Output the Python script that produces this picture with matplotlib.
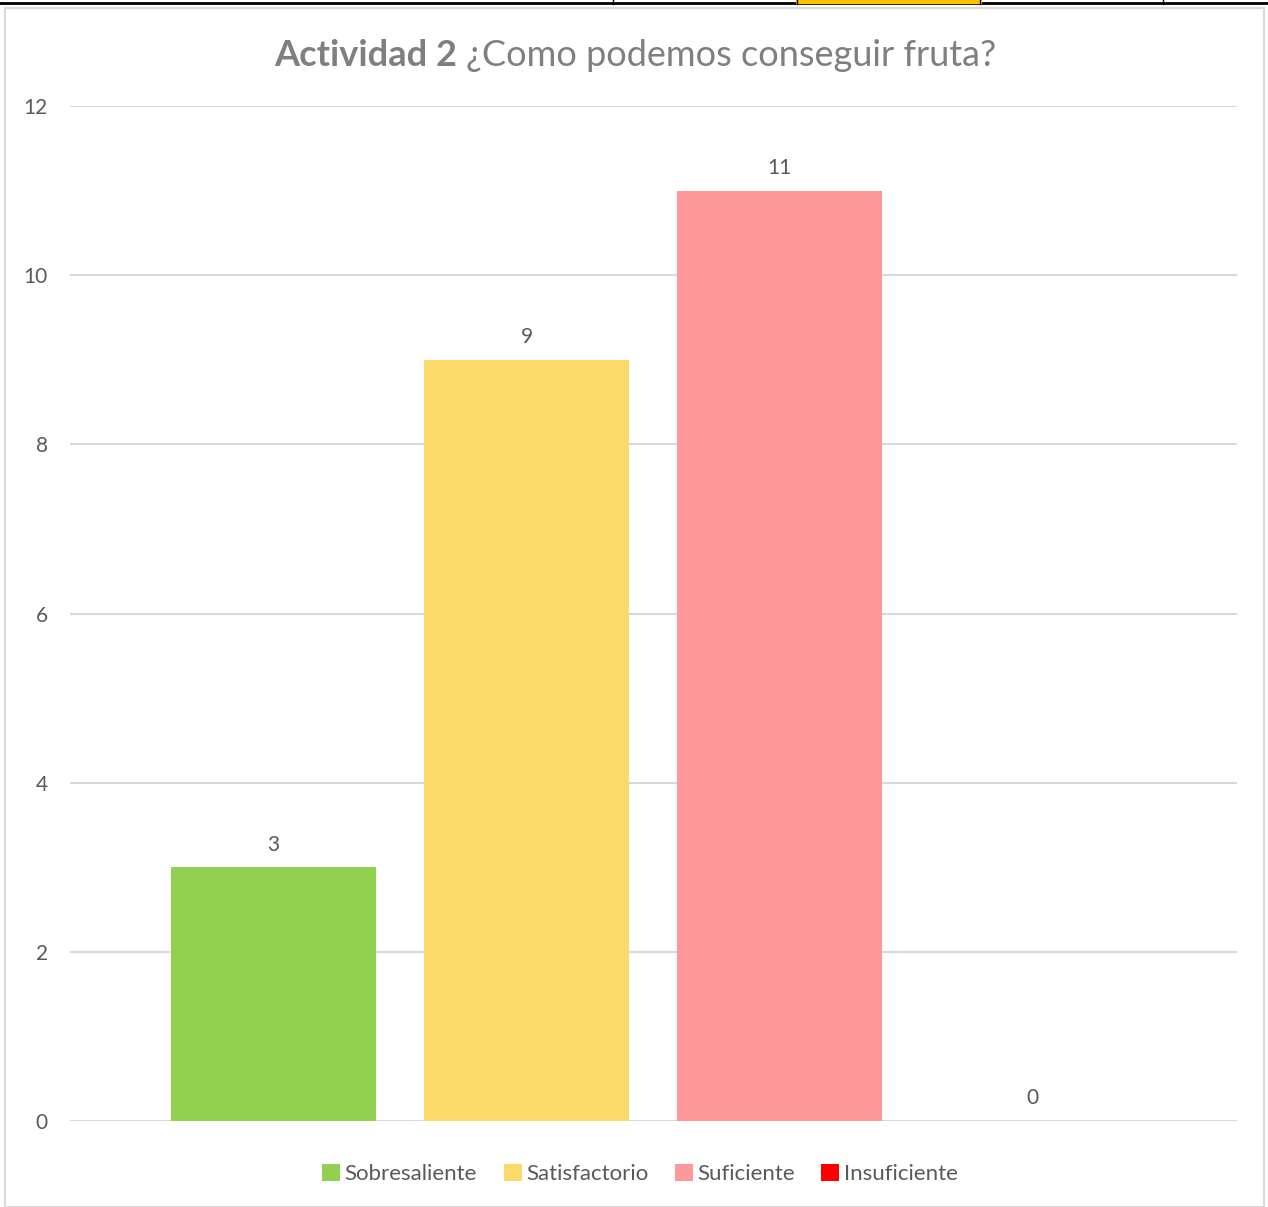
import matplotlib.pyplot as plt
from matplotlib.patches import Rectangle
from matplotlib.lines import Line2D

categorias = ['Sobresaliente', 'Satisfactorio', 'Suficiente', 'Insuficiente']
valores = [3, 9, 11, 0]
cores = ['#92D050', '#FDD96A', '#FF9999', '#FF0000']
yticks = [0, 2, 4, 6, 8, 10, 12]

plt.rcParams['font.family'] = ['Lato', 'DejaVu Sans']
gris = '#7F7F7F'

fig = plt.figure(figsize=(12.68, 12.07), dpi=100)

# marco del grafico y restos de la tabla arriba
fig.add_artist(Rectangle((5 / 1268, 0), 1259 / 1268, 1 - 8 / 1207, transform=fig.transFigure,
                         fill=False, edgecolor='#D9D9D9', lw=1.5))
fig.add_artist(Line2D([0, 1], [1 - 3 / 1207] * 2, color='black', lw=2, transform=fig.transFigure))
fig.add_artist(Line2D([798 / 1268, 980 / 1268], [1 - 2 / 1207] * 2, color='#FFC000', lw=3,
                      transform=fig.transFigure))
for xv in [613, 797, 980, 1163]:
    fig.add_artist(Line2D([xv / 1268] * 2, [1 - 4 / 1207, 1], color='black', lw=1,
                          transform=fig.transFigure))

ax = fig.add_axes([70 / 1268, 1 - 1121 / 1207, 1167 / 1268, (1121 - 106) / 1207])
x = list(range(len(categorias)))
barras = ax.bar(x, valores, width=0.81, color=cores, label=categorias, zorder=2)
for xi, v in zip(x, valores):
    ax.text(xi, v + 0.15, str(v), ha='center', va='bottom', fontsize=15, color='#595959')

ax.set_xlim(-0.804, 3.808)
ax.set_ylim(0, 12)
ax.set_yticks(yticks)
ax.set_xticks([])
ax.grid(axis='y', color='#D9D9D9', lw=1.5, zorder=0)
for s in ax.spines.values():
    s.set_visible(False)
ax.tick_params(axis='y', length=0, labelsize=15, labelcolor='#595959', pad=16)

# titulo: parte en negrita + parte normal, centrado en conjunto
ty = 1 - 55 / 1207
t1 = fig.text(0, ty, 'Actividad 2 ', ha='left', va='center', fontsize=26,
              fontweight='bold', color=gris)
t2 = fig.text(0, ty, '¿Como podemos conseguir fruta?', ha='left', va='center',
              fontsize=26, color=gris)
r = fig.canvas.get_renderer()
w1 = t1.get_window_extent(r).width
w2 = t2.get_window_extent(r).width
x0 = 635 - (w1 + w2) / 2
t1.set_x(x0 / 1268)
t2.set_x((x0 + w1) / 1268)

fig.legend(handles=barras, labels=categorias, loc='center', bbox_to_anchor=(640 / 1268, 1 - 1174 / 1207),
           ncol=4, frameon=False, fontsize=16, labelcolor='#595959', handlelength=0.8,
           handleheight=0.8, handletextpad=0.2, columnspacing=1.2)

fig.savefig('out.png', dpi=100)
